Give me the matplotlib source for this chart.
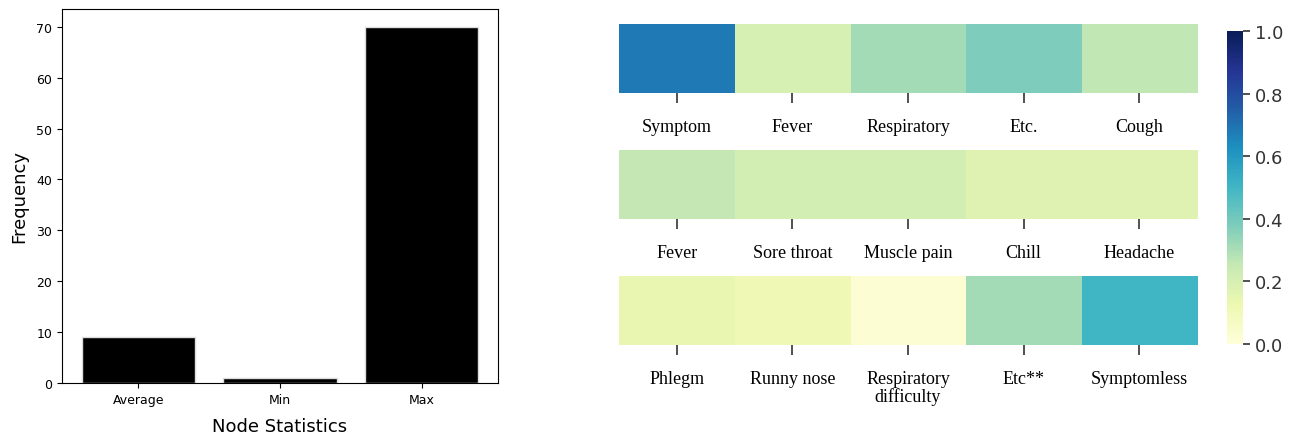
import numpy as np
import matplotlib
matplotlib.use("Agg")
import matplotlib.pyplot as plt

# Node statistics (left panel)
stat_names = ["Average", "Min", "Max"]
stat_values = [9.1, 1.0, 70.0]

# Symptom heatmap rows (right panel)
row1_labels = ["Symptom", "Fever", "Respiratory", "Etc.", "Cough"]
row1_values = [0.68, 0.20, 0.31, 0.375, 0.26]
row2_labels = ["Fever", "Sore throat", "Muscle pain", "Chill", "Headache"]
row2_values = [0.255, 0.21, 0.21, 0.17, 0.17]
row3_labels = ["Phlegm", "Runny nose", "Respiratory\ndifficulty", "Etc**", "Symptomless"]
row3_values = [0.14, 0.11, 0.02, 0.31, 0.50]

cbar_ticks = [0.0, 0.2, 0.4, 0.6, 0.8, 1.0]

fig = plt.figure(figsize=(13.09, 4.39), dpi=100)

# --- bar chart ---
ax = fig.add_axes([0.0474, 0.1253, 0.333, 0.852])
ax.bar(stat_names, stat_values, width=0.8, color="black", edgecolor="#dddddd", linewidth=1)
ax.set_yticks(range(0, 71, 10))
ax.tick_params(labelsize=9)
ax.set_xlabel("Node Statistics", fontsize=13, labelpad=8)
ax.set_ylabel("Frequency", fontsize=13, labelpad=6)

# --- heatmap rows ---
rows = [(row1_labels, row1_values), (row2_labels, row2_values), (row3_labels, row3_values)]
bottoms = [0.7859, 0.4989, 0.2118]
im = None
for (labels, vals), b in zip(rows, bottoms):
    hax = fig.add_axes([0.4729, b, 0.4416, 0.157])
    im = hax.imshow(np.array([vals]), cmap="YlGnBu", vmin=0, vmax=1, aspect="auto")
    hax.set_xticks(range(len(labels)))
    hax.set_xticklabels(labels, fontfamily="Liberation Serif", fontsize=13, linespacing=1.0)
    hax.set_yticks([])
    hax.tick_params(axis="x", length=7, width=1.2, pad=11, color="#333333")
    for s in hax.spines.values():
        s.set_visible(False)

# --- colorbar ---
cax = fig.add_axes([0.9374, 0.2141, 0.0122, 0.713])
cb = fig.colorbar(im, cax=cax, ticks=cbar_ticks)
cb.outline.set_visible(False)
cax.tick_params(labelsize=13, length=5, width=1.2, color="#333333", labelcolor="#333333")
cax.set_yticklabels([f"{t:.1f}" for t in cbar_ticks])

fig.savefig("out.png", dpi=100)
